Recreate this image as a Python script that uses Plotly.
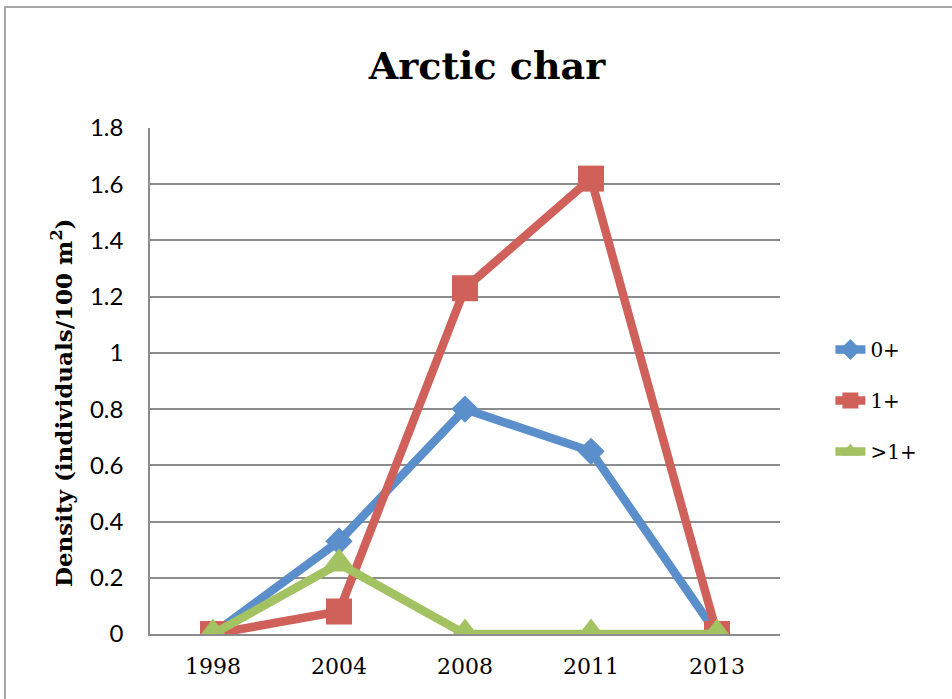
import plotly.graph_objects as go

years = ["1998", "2004", "2008", "2011", "2013"]
age0 = [0, 0.33, 0.80, 0.65, 0]
age1 = [0, 0.08, 1.23, 1.62, 0]
age_gt1 = [0, 0.25, 0, 0, 0]
y_ticks = [0, 0.2, 0.4, 0.6, 0.8, 1, 1.2, 1.4, 1.6, 1.8]
y_tick_text = ["0", "0.2", "0.4", "0.6", "0.8", "1", "1.2", "1.4", "1.6", "1.8"]

blue = "#5B8FCB"
red = "#D0605A"
green = "#A3C262"
grid = "#8c8c8c"

SERIF = "DejaVu Serif"
SANS = "Lato"

L, R, T, B = 150, 780, 128, 634  # plot area edges in pixels
W, H = 952, 699

fig = go.Figure()
fig.add_trace(go.Scatter(x=years, y=age0, name="0+", mode="lines+markers",
                         line=dict(color=blue, width=8.5),
                         marker=dict(symbol="diamond", size=21, color=blue),
                         legendgroup="a"))
fig.add_trace(go.Scatter(x=years, y=age1, name="1+", mode="lines+markers",
                         line=dict(color=red, width=8.5),
                         marker=dict(symbol="square", size=26, color=red),
                         legendgroup="b"))
fig.add_trace(go.Scatter(x=years, y=age_gt1, name=">1+", mode="lines+markers",
                         line=dict(color=green, width=8.5),
                         marker=dict(symbol="triangle-up", size=31, color=green),
                         legendgroup="c"))

fig.update_layout(
    width=W, height=H,
    margin=dict(l=L, r=W - R, t=T, b=H - B),
    paper_bgcolor="white", plot_bgcolor="white",
    font=dict(family=SERIF, size=22, color="black"),
    title=dict(text="<b>Arctic char</b>", x=(487 - L) / (R - L), xanchor="center", xref="paper",
               y=1 - 66 / H, yanchor="middle",
               font=dict(family=SERIF, size=38, color="black")),
    xaxis=dict(type="category", range=[-0.5, 4.5], showgrid=False,
               showline=True, linecolor=grid, linewidth=1.5, ticks="",
               ticklabelstandoff=12,
               tickfont=dict(family=SERIF, size=22, color="black")),
    yaxis=dict(range=[0, 1.8], tickvals=y_ticks, ticktext=y_tick_text,
               showgrid=True, gridcolor=grid, gridwidth=1.5,
               showline=True, linecolor=grid, linewidth=1.5, ticks="",
               ticklabelstandoff=20,
               tickfont=dict(family=SANS, size=24, color="black"), zeroline=False),
    legend=dict(x=1.08, y=(B - 330) / (B - T), xanchor="left", yanchor="top",
                font=dict(family=SERIF, size=20, color="black"), tracegroupgap=22,
                traceorder="grouped", bgcolor="rgba(0,0,0,0)"),
    showlegend=True,
)

fig.add_annotation(text="<b>Density (individuals/100 m<sup>2</sup>)</b>",
                   xref="paper", yref="paper", x=(62 - L) / (R - L), y=(B - 403) / (B - T),
                   textangle=-90, showarrow=False, xanchor="center", yanchor="middle",
                   font=dict(family=SERIF, size=23, color="black"))

fig.add_shape(type="rect", xref="paper", yref="paper",
              x0=(5 - L) / (R - L), x1=(990 - L) / (R - L),
              y0=(B - 740) / (B - T), y1=(B - 7) / (B - T),
              line=dict(color=grid, width=1.5), fillcolor="rgba(0,0,0,0)", layer="below")

fig.write_html("out.html", config={"displayModeBar": False},
               post_script="document.body.style.margin='0';")
